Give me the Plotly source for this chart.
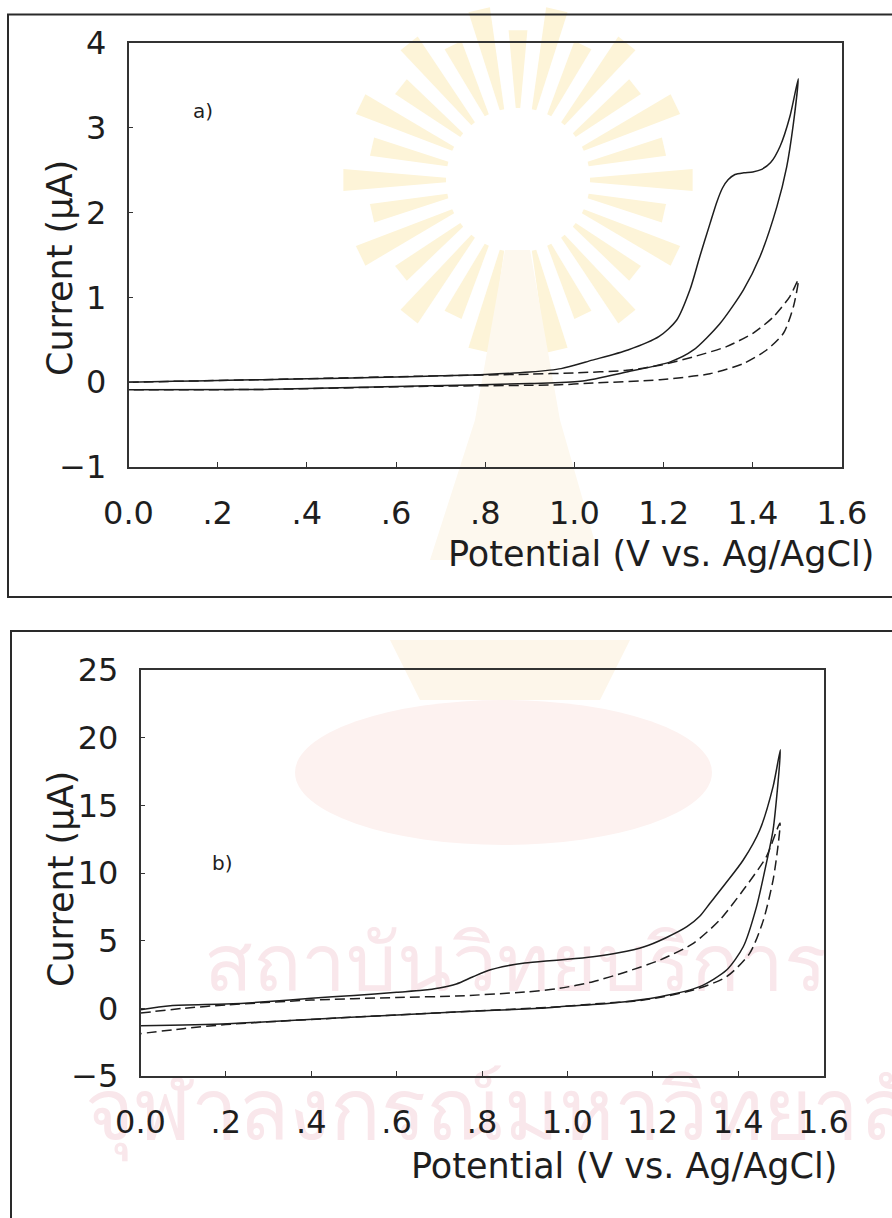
import math
import plotly.graph_objects as go

# ---- Panel a: cyclic voltammograms (forward scan, then return scan) ----
a_solid_fwd_v = [0.00, 0.10, 0.20, 0.30, 0.40, 0.50, 0.60, 0.70, 0.80, 0.90, 0.97, 1.04, 1.12, 1.19,
                 1.229, 1.259, 1.281, 1.304, 1.319, 1.332, 1.345, 1.36, 1.38, 1.40, 1.42, 1.44, 1.461, 1.483, 1.502]
a_solid_fwd_i = [0.00, 0.01, 0.02, 0.03, 0.04, 0.05, 0.06, 0.075, 0.09, 0.12, 0.16, 0.26, 0.38, 0.54,
                 0.73, 1.09, 1.48, 1.87, 2.12, 2.29, 2.39, 2.45, 2.47, 2.48, 2.51, 2.59, 2.78, 3.13, 3.58]
a_solid_rev_v = [1.502, 1.491, 1.476, 1.454, 1.416, 1.379, 1.326, 1.267, 1.215, 1.117, 1.013, 0.90, 0.65, 0.30, 0.00]
a_solid_rev_i = [3.58, 3.05, 2.54, 2.07, 1.48, 1.09, 0.69, 0.38, 0.24, 0.12, 0.01, -0.015, -0.045, -0.085, -0.09]

a_dash_fwd_v = [0.00, 0.30, 0.65, 0.90, 1.00, 1.117, 1.192, 1.267, 1.341, 1.401, 1.446, 1.483, 1.502]
a_dash_fwd_i = [0.00, 0.03, 0.07, 0.095, 0.11, 0.14, 0.20, 0.30, 0.42, 0.58, 0.77, 1.01, 1.205]
a_dash_rev_v = [1.502, 1.491, 1.469, 1.431, 1.379, 1.304, 1.192, 1.042, 0.967, 0.65, 0.30, 0.00]
a_dash_rev_i = [1.205, 0.89, 0.58, 0.38, 0.22, 0.10, 0.03, -0.01, -0.03, -0.05, -0.085, -0.09]

# ---- Panel b ----
b_solid_fwd_v = [0.00, 0.07, 0.20, 0.30, 0.40, 0.50, 0.60, 0.66, 0.70, 0.74, 0.78, 0.82, 0.86, 0.90, 0.95,
                 1.00, 1.06, 1.12, 1.18, 1.23, 1.28, 1.31, 1.334, 1.37, 1.412, 1.451, 1.482, 1.499]
b_solid_fwd_i = [-0.1, 0.2, 0.32, 0.5, 0.75, 0.95, 1.19, 1.33, 1.5, 1.8, 2.35, 2.85, 3.15, 3.35, 3.5,
                 3.62, 3.81, 4.1, 4.55, 5.2, 6.03, 6.8, 7.76, 9.2, 10.96, 13.2, 16.4, 19.1]
b_solid_rev_v = [1.499, 1.482, 1.466, 1.443, 1.412, 1.373, 1.310, 1.217, 1.100, 0.982, 0.937, 0.737, 0.47, 0.204, 0.00]
b_solid_rev_i = [19.1, 13.2, 10.7, 7.5, 4.55, 2.83, 1.60, 0.86, 0.37, 0.12, 0.0, -0.27, -0.70, -1.14, -1.29]

b_dash_fwd_v = [0.00, 0.10, 0.20, 0.40, 0.60, 0.74, 0.90, 0.982, 1.060, 1.139, 1.217, 1.295, 1.357, 1.412, 1.466, 1.498]
b_dash_fwd_i = [-0.35, 0.0, 0.25, 0.61, 0.8, 0.91, 1.2, 1.48, 1.97, 2.71, 3.57, 4.80, 6.53, 8.74, 11.2, 13.7]
b_dash_rev_v = [1.498, 1.493, 1.482, 1.459, 1.427, 1.373, 1.295, 1.178, 1.060, 0.982, 0.737, 0.47, 0.30, 0.20, 0.10, 0.00]
b_dash_rev_i = [13.7, 11.9, 9.5, 6.5, 4.06, 2.34, 1.35, 0.61, 0.32, 0.12, -0.27, -0.70, -1.0, -1.2, -1.5, -1.87]

x_tickvals = [0.0, 0.2, 0.4, 0.6, 0.8, 1.0, 1.2, 1.4, 1.6]
x_ticktext = ["0.0", ".2", ".4", ".6", ".8", "1.0", "1.2", "1.4", "1.6"]
a_yticks = [-1, 0, 1, 2, 3, 4]
b_yticks = [-5, 0, 5, 10, 15, 20, 25]

x_title = "Potential (V vs. Ag/AgCl)"
y_title = "Current (µA)"
stamp_line1 = "สถาบันวิทยบริการ"
stamp_line2 = "จุฬาลงกรณ์มหาวิทยาลัย"

INK = "#1e1e1e"
FONT = "DejaVu Sans"
W, H = 892, 1218


def px(x):
    return x / W


def py(y):
    return 1 - y / H


fig = go.Figure()


def add_cv(v_fwd, i_fwd, v_rev, i_rev, axis, dashed):
    fig.add_trace(go.Scatter(
        x=v_fwd + v_rev[1:], y=i_fwd + i_rev[1:],
        mode="lines", xaxis="x" + axis, yaxis="y" + axis,
        line=dict(color=INK, width=1.5, shape="spline", smoothing=0.7,
                  dash="10px,5px" if dashed else "solid"),
        showlegend=False, hoverinfo="skip",
    ))


add_cv(a_solid_fwd_v, a_solid_fwd_i, a_solid_rev_v, a_solid_rev_i, "", False)
add_cv(a_dash_fwd_v, a_dash_fwd_i, a_dash_rev_v, a_dash_rev_i, "", True)
add_cv(b_solid_fwd_v, b_solid_fwd_i, b_solid_rev_v, b_solid_rev_i, "2", False)
add_cv(b_dash_fwd_v, b_dash_fwd_i, b_dash_rev_v, b_dash_rev_i, "2", True)

axis_common = dict(
    showline=True, linecolor="#333", linewidth=1.5, mirror=True, automargin=False,
    showgrid=False, zeroline=False, ticks="inside", ticklen=5, tickcolor="#333",
    tickfont=dict(family=FONT, size=32, color=INK),
)

fig.update_layout(
    template="none",
    width=W, height=H, margin=dict(l=0, r=0, t=0, b=0, pad=0, autoexpand=False),
    paper_bgcolor="white", plot_bgcolor="rgba(0,0,0,0)",
    xaxis=dict(domain=[px(128.5), px(842)], range=[0, 1.6], tickvals=x_tickvals, ticktext=x_ticktext,
               ticklabelstandoff=17, anchor="y", **axis_common),
    yaxis=dict(domain=[py(467), py(43)], range=[-1, 4], tickvals=a_yticks,
               ticklabelstandoff=14, anchor="x", **axis_common),
    xaxis2=dict(domain=[px(140.5), px(823.5)], range=[0, 1.6], tickvals=x_tickvals, ticktext=x_ticktext,
                ticklabelstandoff=17, anchor="y2", **axis_common),
    yaxis2=dict(domain=[py(1076), py(670)], range=[-5, 25], tickvals=b_yticks,
                ticklabelstandoff=14, anchor="x2", **axis_common),
)

title_font = dict(family=FONT, size=35, color=INK)
annotations = [
    dict(text=x_title, x=px(876), y=py(554), xanchor="right", yanchor="middle", font=title_font),
    dict(text=y_title, x=px(60), y=py(268), textangle=-90, xanchor="center", yanchor="middle", font=title_font),
    dict(text=x_title, x=px(839), y=py(1166), xanchor="right", yanchor="middle", font=title_font),
    dict(text=y_title, x=px(61), y=py(879), textangle=-90, xanchor="center", yanchor="middle", font=title_font),
    dict(text="a)", x=px(203), y=py(111), xanchor="center", yanchor="middle",
         font=dict(family=FONT, size=20, color=INK)),
    dict(text="b)", x=px(222), y=py(863), xanchor="center", yanchor="middle",
         font=dict(family=FONT, size=20, color=INK)),
]
for a in annotations:
    a.update(xref="paper", yref="paper", showarrow=False)
fig.update_layout(annotations=annotations)


def paper_path(points):
    return "M " + " L ".join(f"{px(x):.5f},{py(y):.5f}" for x, y in points) + " Z"


# Faint background emblem: sunburst rays, pedestal and bowl
emblem = []
cx, cy = 518, 180
n_rays = 28
for k in range(n_rays):
    ang = 2 * math.pi * k / n_rays
    half = math.radians(3.6)
    r_in, r_out = 72, (175 if k % 2 == 0 else 150)
    pts = [(cx + r_in * math.cos(ang - half / 2), cy + r_in * math.sin(ang - half / 2)),
           (cx + r_out * math.cos(ang - half), cy + r_out * math.sin(ang - half)),
           (cx + r_out * math.cos(ang + half), cy + r_out * math.sin(ang + half)),
           (cx + r_in * math.cos(ang + half / 2), cy + r_in * math.sin(ang + half / 2))]
    emblem.append(dict(type="path", xref="paper", yref="paper", path=paper_path(pts), layer="below",
                       line=dict(width=0), fillcolor="#fdf4d8"))
emblem.append(dict(type="path", xref="paper", yref="paper", layer="below", line=dict(width=0),
                   fillcolor="#fdf8ee",
                   path=paper_path([(505, 250), (530, 250), (560, 420), (600, 560), (430, 560), (475, 420)])))
emblem.append(dict(type="circle", xref="paper", yref="paper", layer="below", line=dict(width=0),
                   fillcolor="#fdf2f0",
                   x0=px(295), x1=px(712), y0=py(845), y1=py(700)))
emblem.append(dict(type="path", xref="paper", yref="paper", layer="below", line=dict(width=0),
                   fillcolor="#fdf6ea",
                   path=paper_path([(390, 640), (630, 640), (600, 700), (420, 700)])))

# Frames around each panel and the faint background lettering
stamp_color = "#f9e7eb"
shapes = emblem + [
    dict(type="rect", xref="paper", yref="paper", x0=px(8), x1=px(905), y0=py(597), y1=py(14.5),
         line=dict(color="#2a2a2a", width=2)),
    dict(type="rect", xref="paper", yref="paper", x0=px(11), x1=px(905), y0=py(1240), y1=py(631),
         line=dict(color="#2a2a2a", width=2)),
    dict(type="rect", xref="paper", yref="paper", x0=px(190), x1=px(840), y0=py(1005), y1=py(925),
         layer="below", line=dict(width=0), fillcolor="rgba(0,0,0,0)",
         label=dict(text=stamp_line1, font=dict(size=80, color=stamp_color, family="Noto Sans"))),
    dict(type="rect", xref="paper", yref="paper", x0=px(82), x1=px(1000), y0=py(1165), y1=py(1060),
         layer="below", line=dict(width=0), fillcolor="rgba(0,0,0,0)",
         label=dict(text=stamp_line2, textposition="middle left", padding=0,
                    font=dict(size=84, color=stamp_color, family="Noto Sans"))),
]
fig.update_layout(shapes=shapes)

fig.write_html("out.html")
